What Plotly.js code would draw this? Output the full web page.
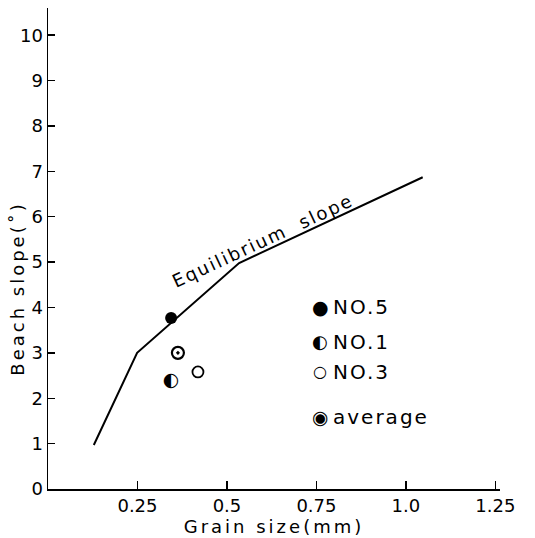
<!DOCTYPE html>
<html>
<head>
<meta charset="utf-8">
<script src="https://cdn.plot.ly/plotly-3.0.1.min.js"></script>
<style>
  html, body { margin: 0; padding: 0; background: #fff; }
  #chart { width: 535px; height: 538px; }
  .xtitle, .ytitle { letter-spacing: 3px; }
  .g-ytitle { transform: translate(10px, 40px); }
  .annotation-text { letter-spacing: 2px; }
</style>
</head>
<body>
<div id="chart"></div>
<script>
// Equilibrium slope curve
const eqX = [0.128, 0.249, 0.534, 1.047];
const eqY = [0.97, 3.0, 4.98, 6.87];

// Observed points
const no5X = [0.344];  const no5Y = [3.77];
const no1X = [0.344];  const no1Y = [2.38];
const no3X = [0.419];  const no3Y = [2.58];
const avgX = [0.363];  const avgY = [3.0];

// Tick labels
const xTickVals = [0.25, 0.5, 0.75, 1.0, 1.25];
const xTickText = ["0.25", "0.5", "0.75", "1.0", "1.25"];

// Legend labels
const legendNames = ["NO.5", "NO.1", "NO.3", "average"];
const legendGlyphs = ["●", "◐", "○", "◉"];

const FONT = "DejaVu Sans, sans-serif";

const traces = [
  { x: eqX, y: eqY, mode: "lines", line: { color: "#000", width: 2 }, name: "Equilibrium slope", showlegend: false },
  { x: no5X, y: no5Y, mode: "markers", marker: { symbol: "circle", size: 12, color: "#000" }, name: legendNames[0], showlegend: false },
  { x: no1X, y: no1Y, mode: "text", text: ["◐"], textfont: { family: FONT, size: 19, color: "#000" }, name: legendNames[1], showlegend: false },
  { x: no3X, y: no3Y, mode: "markers", marker: { symbol: "circle-open", size: 11, color: "#000", line: { width: 1.8, color: "#000" } }, name: legendNames[2], showlegend: false },
  { x: avgX, y: avgY, mode: "markers", marker: { symbol: "circle-open-dot", size: 12, color: "#000", line: { width: 2.2, color: "#000" } }, name: legendNames[3], showlegend: false }
];

// legend rows (data-space placement of the hand-drawn legend)
const legRowY = [4.01, 3.24, 2.58, 1.59];
const legGlyphSize = [19, 18, 16, 19];
const annotations = [];
legendNames.forEach((n, i) => {
  annotations.push({ x: 0.763, y: legRowY[i], xref: "x", yref: "y", text: legendGlyphs[i], showarrow: false,
    font: { family: FONT, size: legGlyphSize[i], color: "#000" }, xanchor: "center", yanchor: "middle" });
  annotations.push({ x: 0.79, y: legRowY[i], xref: "x", yref: "y", text: n, showarrow: false,
    font: { family: FONT, size: 20, color: "#000" }, xanchor: "left", yanchor: "middle" });
});
annotations.push({ x: 0.6, y: 5.48, xref: "x", yref: "y", text: "Equilibrium  slope", showarrow: false,
  textangle: -25, font: { family: FONT, size: 18, color: "#000" }, xanchor: "center", yanchor: "middle" });

const layout = {
  width: 535, height: 538,
  margin: { l: 48, r: 35, t: 8, b: 49 },
  paper_bgcolor: "#fff", plot_bgcolor: "#fff",
  showlegend: false,
  font: { family: FONT, size: 18, color: "#000" },
  xaxis: {
    range: [0, 1.263], tickvals: xTickVals, ticktext: xTickText,
    ticks: "inside", ticklen: 8, tickwidth: 1.5, tickcolor: "#000",
    showline: true, linecolor: "#000", linewidth: 1.5,
    showgrid: false, zeroline: false,
    tickfont: { family: FONT, size: 18, color: "#000" },
    title: { text: "Grain size(mm)", font: { family: FONT, size: 18, color: "#000" }, standoff: 4 }
  },
  yaxis: {
    range: [0, 10.6], dtick: 1, tick0: 0,
    ticks: "inside", ticklen: 7, tickwidth: 1.5, tickcolor: "#000",
    showline: true, linecolor: "#000", linewidth: 1.5,
    showgrid: false, zeroline: false,
    tickfont: { family: FONT, size: 18, color: "#000" },
    title: { text: "Beach slope(˚)", font: { family: FONT, size: 18, color: "#000" }, standoff: 0 }
  },
  annotations: annotations
};

Plotly.newPlot("chart", traces, layout, { staticPlot: true, displayModeBar: false });
</script>
</body>
</html>
